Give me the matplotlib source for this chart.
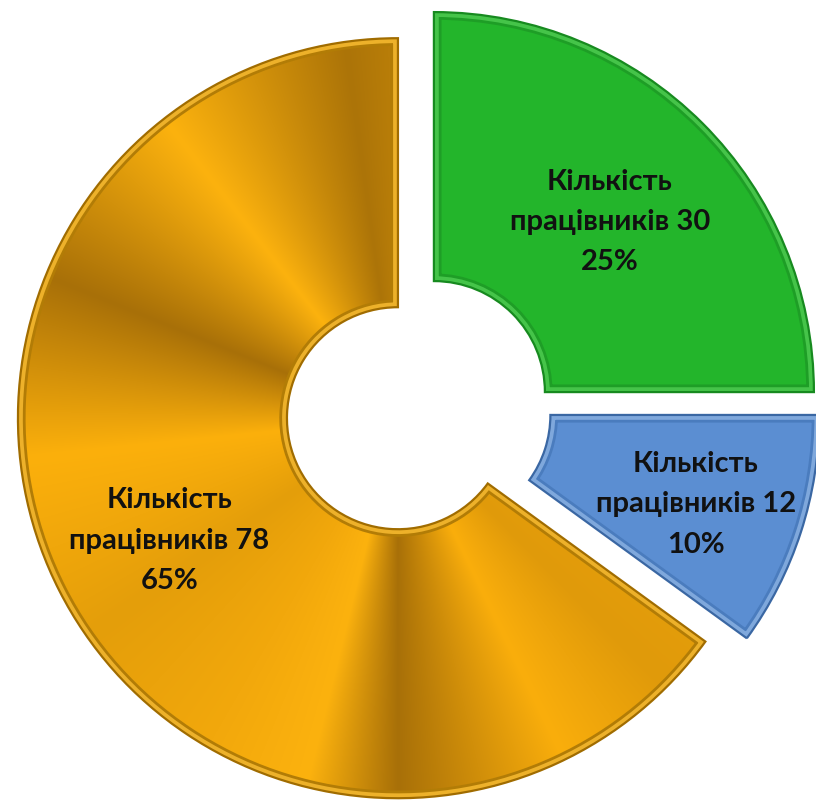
import numpy as np
import matplotlib
matplotlib.use("Agg")
import matplotlib.pyplot as plt
from matplotlib.patches import PathPatch

# Data
categories = ["Кількість\nпрацівників", "Кількість\nпрацівників", "Кількість\nпрацівників"]
counts = [30, 12, 78]
fill_colors = ["#23B52B", "#5B8ED2", "#F0A80C"]

# Styling
outer_radius = 380
ring_width = 269
explode_gap = 22.5
label_dist = [0.655, 0.71, 0.675]
label_drop = 6
bevel_colors = [
    ("#178A1F", "#45C449", "#1E9E26"),
    ("#3A67A3", "#7FA8DC", "#4A7CBE"),
    ("#A06C00", "#EDB12A", "#B27C06"),
]

fig = plt.figure(figsize=(8.16, 8.07), dpi=100)
ax = fig.add_axes([0, 0, 1, 1])

wedges, _ = ax.pie(
    counts,
    startangle=90,
    counterclock=False,
    radius=outer_radius,
    center=(418, 399),
    explode=[explode_gap] * len(counts),
    colors=fill_colors,
    wedgeprops=dict(width=ring_width, linewidth=0),
)
ax.set_aspect("equal")
ax.axis("off")

# Metallic gold fill: soft angular bands around the gold ring centre
gold = wedges[2]
gx, gy = gold.center
xx, yy = np.meshgrid(np.arange(0, 816) + 0.5, np.arange(0, 807) + 0.5)
ang = np.degrees(np.arctan2(yy - gy, xx - gx)) % 360
stops_a = np.array([0, 85, 98, 128, 158, 186, 215, 240, 256, 270, 296, 315, 335, 360])
stops_c = np.array([
    (232, 160, 12), (196, 134, 10), (172, 116, 8), (252, 178, 14), (168, 112, 8),
    (252, 176, 12), (228, 158, 10), (242, 168, 12), (252, 178, 14), (168, 112, 8),
    (250, 174, 12), (224, 154, 10), (232, 160, 12), (232, 160, 12),
]) / 255.0
rgb = np.stack([np.interp(ang, stops_a, stops_c[:, k]) for k in range(3)], axis=-1)
img = ax.imshow(rgb, extent=(0, 816, 0, 807), origin="lower", zorder=1.5,
                interpolation="bilinear")
img.set_clip_path(gold)

# Bevelled borders
for w, (outer, light, inner) in zip(wedges, bevel_colors):
    for lw, col in [(11, inner), (7, light)]:
        p = PathPatch(w.get_path(), fill=False, lw=lw, ec=col, joinstyle="miter", zorder=2)
        ax.add_patch(p)
        p.set_clip_path(w)
    ax.add_patch(PathPatch(w.get_path(), fill=False, lw=1.6, ec=outer,
                           joinstyle="miter", zorder=2.5))

ax.set_xlim(0, 816)
ax.set_ylim(0, 807)

# Data labels
total = sum(counts)
for w, cat, c, d in zip(wedges, categories, counts, label_dist):
    mid = np.radians((w.theta1 + w.theta2) / 2)
    cx, cy = w.center
    x = cx + d * outer_radius * np.cos(mid)
    y = cy + d * outer_radius * np.sin(mid) - label_drop
    pct = round(100 * c / total)
    ax.text(x, y, f"{cat} {c}\n{pct}%", ha="center", va="center",
            multialignment="center", fontsize=21, fontweight="bold",
            family=["Lato", "DejaVu Sans"], color="#111111",
            linespacing=1.68, zorder=3)

fig.savefig("out.png", dpi=100)
